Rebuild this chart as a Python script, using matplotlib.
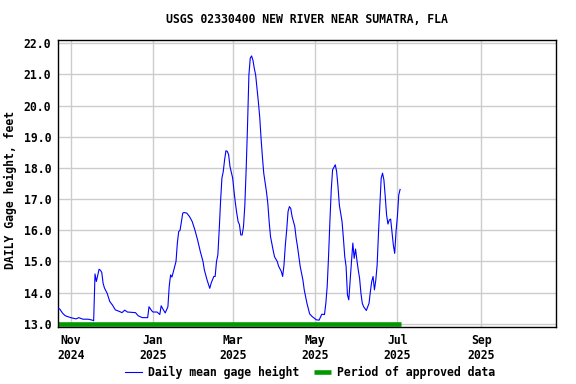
import matplotlib
matplotlib.use("Agg")
import matplotlib.pyplot as plt
import pandas as pd

title = "USGS 02330400 NEW RIVER NEAR SUMATRA, FLA"
ylabel = "DAILY Gage height, feet"

dates = [
    "2024-10-23", "2024-10-24", "2024-10-26", "2024-10-28", "2024-11-01", "2024-11-05",
    "2024-11-07", "2024-11-10", "2024-11-14", "2024-11-17", "2024-11-18", "2024-11-19",
    "2024-11-20", "2024-11-21", "2024-11-22", "2024-11-23", "2024-11-24", "2024-11-25",
    "2024-11-26", "2024-11-28", "2024-11-30", "2024-12-02", "2024-12-04", "2024-12-07",
    "2024-12-09", "2024-12-11", "2024-12-13", "2024-12-16", "2024-12-19", "2024-12-21",
    "2024-12-24", "2024-12-28", "2024-12-29", "2024-12-31", "2025-01-01", "2025-01-04",
    "2025-01-06", "2025-01-07", "2025-01-08", "2025-01-10", "2025-01-12", "2025-01-13",
    "2025-01-14", "2025-01-15", "2025-01-17", "2025-01-18", "2025-01-19", "2025-01-20",
    "2025-01-21", "2025-01-23", "2025-01-24", "2025-01-26", "2025-01-28", "2025-01-30",
    "2025-02-01", "2025-02-03", "2025-02-05", "2025-02-07", "2025-02-08", "2025-02-10",
    "2025-02-12", "2025-02-13", "2025-02-15", "2025-02-16", "2025-02-17", "2025-02-18",
    "2025-02-19", "2025-02-20", "2025-02-21", "2025-02-22", "2025-02-23", "2025-02-24",
    "2025-02-25", "2025-02-26", "2025-02-27", "2025-03-01", "2025-03-02", "2025-03-03",
    "2025-03-04", "2025-03-05", "2025-03-06", "2025-03-07", "2025-03-08", "2025-03-09",
    "2025-03-10", "2025-03-11", "2025-03-12", "2025-03-13", "2025-03-14", "2025-03-15",
    "2025-03-16", "2025-03-17", "2025-03-18", "2025-03-19", "2025-03-20", "2025-03-21",
    "2025-03-22", "2025-03-23", "2025-03-24", "2025-03-26", "2025-03-27", "2025-03-28",
    "2025-03-29", "2025-03-31", "2025-04-01", "2025-04-03", "2025-04-04", "2025-04-06",
    "2025-04-07", "2025-04-08", "2025-04-09", "2025-04-10", "2025-04-11", "2025-04-12",
    "2025-04-13", "2025-04-14", "2025-04-16", "2025-04-17", "2025-04-18", "2025-04-19",
    "2025-04-20", "2025-04-22", "2025-04-23", "2025-04-24", "2025-04-25", "2025-04-27",
    "2025-04-29", "2025-05-02", "2025-05-04", "2025-05-06", "2025-05-08", "2025-05-09",
    "2025-05-10", "2025-05-11", "2025-05-12", "2025-05-13", "2025-05-14", "2025-05-16",
    "2025-05-17", "2025-05-18", "2025-05-19", "2025-05-21", "2025-05-22", "2025-05-23",
    "2025-05-24", "2025-05-25", "2025-05-26", "2025-05-27", "2025-05-28", "2025-05-29",
    "2025-05-30", "2025-05-31", "2025-06-01", "2025-06-02", "2025-06-03", "2025-06-04",
    "2025-06-05", "2025-06-06", "2025-06-08", "2025-06-09", "2025-06-10", "2025-06-11",
    "2025-06-12", "2025-06-13", "2025-06-14", "2025-06-15", "2025-06-16", "2025-06-17",
    "2025-06-18", "2025-06-19", "2025-06-20", "2025-06-21", "2025-06-22", "2025-06-23",
    "2025-06-24", "2025-06-25", "2025-06-26", "2025-06-27", "2025-06-28", "2025-06-29",
    "2025-06-30", "2025-07-01", "2025-07-02", "2025-07-03",
]

gage_height = [
    13.50, 13.47, 13.34, 13.26, 13.20, 13.16,
    13.20, 13.15, 13.15, 13.12, 13.10, 14.60,
    14.36, 14.55, 14.75, 14.72, 14.65, 14.30,
    14.15, 13.98, 13.71, 13.60, 13.45, 13.40,
    13.36, 13.44, 13.38, 13.37, 13.36, 13.26,
    13.20, 13.20, 13.55, 13.42, 13.38, 13.38,
    13.30, 13.58, 13.50, 13.35, 13.55, 14.22,
    14.57, 14.50, 14.84, 15.00, 15.59, 15.96,
    16.00, 16.55, 16.57, 16.55, 16.44, 16.28,
    16.01, 15.69, 15.32, 15.00, 14.73, 14.41,
    14.14, 14.30, 14.52, 14.52, 15.00, 15.21,
    16.01, 16.92, 17.67, 17.88, 18.26, 18.55,
    18.53, 18.42, 18.04, 17.67, 17.24, 16.87,
    16.55, 16.28, 16.18, 15.85, 15.85, 16.12,
    16.81, 17.99, 19.38, 20.98, 21.52, 21.59,
    21.45, 21.19, 20.98, 20.55, 20.12, 19.64,
    18.95, 18.36, 17.83, 17.24, 16.87, 16.28,
    15.80, 15.35, 15.15, 15.00, 14.85, 14.68,
    14.52, 14.89, 15.53, 16.01, 16.60, 16.76,
    16.70, 16.44, 16.12, 15.75, 15.48, 15.16,
    14.84, 14.41, 14.09, 13.88, 13.66, 13.32,
    13.23, 13.13, 13.12, 13.31, 13.30, 13.66,
    14.20, 15.16, 16.28, 17.29, 17.94, 18.10,
    17.88, 17.40, 16.81, 16.28, 15.75, 15.16,
    14.84, 13.93, 13.77, 14.41, 15.00, 15.59,
    15.10, 15.40, 15.05, 14.73, 14.46, 13.98,
    13.66, 13.55, 13.43, 13.55, 13.66, 14.04,
    14.36, 14.52, 14.09, 14.40, 14.89, 15.91,
    16.76, 17.67, 17.83, 17.62, 17.08, 16.49,
    16.20, 16.33, 16.36, 15.96, 15.53, 15.26,
    15.96, 16.44, 17.13, 17.31,
]

approved_dates = ["2024-10-22 14:00", "2025-07-04 00:00"]
approved_level = [13.0, 13.0]

tick_dates = ["2024-11-01", "2025-01-01", "2025-03-01", "2025-05-01", "2025-07-01", "2025-09-01"]
tick_labels = ["Nov\n2024", "Jan\n2025", "Mar\n2025", "May\n2025", "Jul\n2025", "Sep\n2025"]
y_ticks = [13.0, 14.0, 15.0, 16.0, 17.0, 18.0, 19.0, 20.0, 21.0, 22.0]

x_start = "2024-10-22 14:00"
x_end = "2025-10-26 12:00"

FONT = "DejaVu Sans Mono"
FS = 8.3
plt.rcParams["font.family"] = FONT
plt.rcParams["font.weight"] = "bold"

fig = plt.figure(figsize=(5.76, 3.84), dpi=100)
ax = fig.add_axes([58 / 576, 1 - 327 / 384, (556 - 58) / 576, (327 - 40) / 384])

d = pd.to_datetime(dates, format="%Y-%m-%d")
ax.plot(d, gage_height, color="#0000ff", lw=0.8, label="Daily mean gage height", zorder=3)
ax.plot(pd.to_datetime(approved_dates, format="%Y-%m-%d %H:%M"), approved_level,
        color="#009900", lw=3.3, solid_capstyle="butt",
        label="Period of approved data", zorder=2)

ax.set_xlim(pd.Timestamp(x_start), pd.Timestamp(x_end))
ax.set_ylim(12.9, 22.1)
ax.set_xticks(pd.to_datetime(tick_dates, format="%Y-%m-%d"))
ax.set_xticklabels(tick_labels)
ax.set_yticks(y_ticks)
ax.set_yticklabels([f"{v:.1f}" for v in y_ticks])
ax.tick_params(axis="both", length=0, labelsize=FS, pad=5)
for lab in ax.get_xticklabels() + ax.get_yticklabels():
    lab.set_fontweight("bold")
ax.grid(True, color="#cccccc", lw=1.0)
ax.set_axisbelow(True)
for s in ax.spines.values():
    s.set_color("black")
    s.set_linewidth(1.0)

ax.set_title(title, fontsize=FS, fontweight="bold", pad=12)
ax.set_ylabel(ylabel, fontsize=FS, fontweight="bold")
ax.yaxis.set_label_coords(-0.083, 0.477)

fig.legend(loc="center", bbox_to_anchor=(0.538, 0.03), ncol=2, frameon=False,
           handlelength=1.5, columnspacing=1.25, handletextpad=0.5,
           prop={"family": FONT, "weight": "bold", "size": FS})

fig.savefig("out.png", dpi=100)
